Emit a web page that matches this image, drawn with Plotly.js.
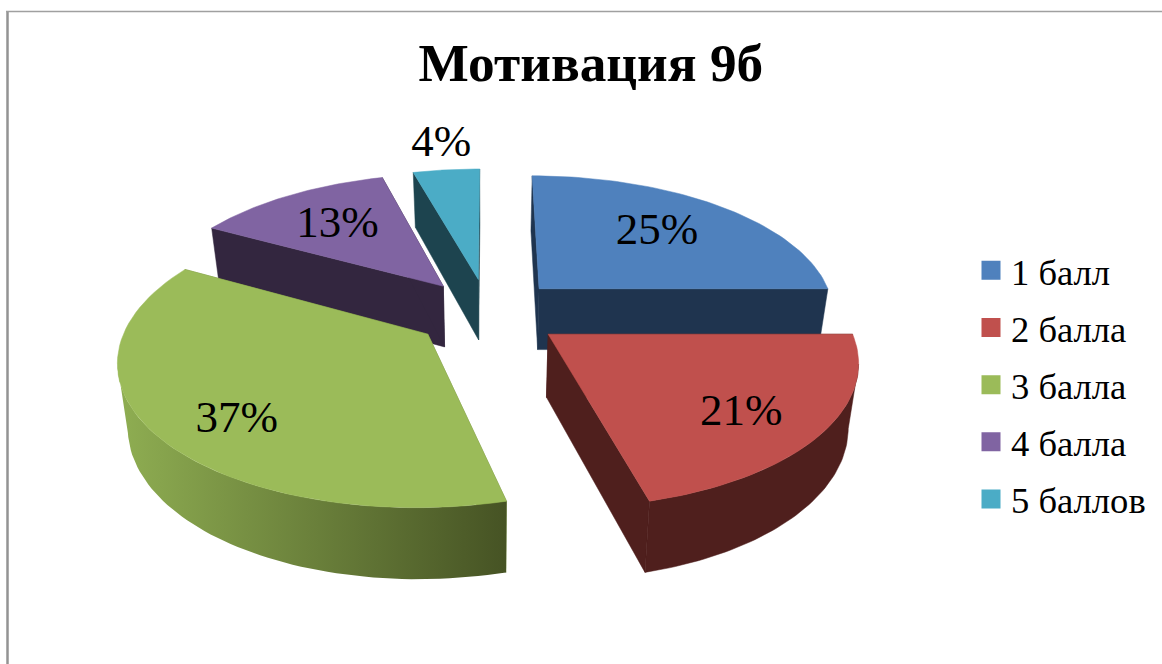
<!DOCTYPE html>
<html>
<head>
<meta charset="utf-8">
<script src="https://cdn.plot.ly/plotly-3.0.1.min.js"></script>
<style>html,body{margin:0;padding:0;background:#fff}#chart{width:1162px;height:664px}</style>
</head>
<body>
<div id="chart"></div>
<script>
const categories = ['1 балл', '2 балла', '3 балла', '4 балла', '5 баллов'];
const percents = [25, 21, 37, 12.7, 4.3];
const topColors = ['#4F81BD', '#C0504D', '#9BBB59', '#8064A2', '#4BACC6'];
const sideColors = ['#1F344F', '#4F1F1D', '#6B8239', '#33263F', '#1D444F'];
const chartTitle = 'Мотивация 9б';

// Projection of the tilted, exploded pie onto the page axes.
const view = {cx: 488, cy: 312.5, rx: 297, ry: 138, persp: 0.16, explode: 0.25, depth: 62, depthPow: 0.7, shrink: 0.972};
const labelRadius = [0.655, 0.75, 0.77, 0.66, 1.29];
const labelTurn = [-1.4, 3, -6, 0, 0.5];
const labelDrop = 2;
const paintOrder = [4, 3, 0, 2, 1];
const FONT = '"Liberation Serif", "Times New Roman", serif';
const rad = d => d * Math.PI / 180;

function project(u, v, lower) {
  const d = 1 - view.persp * v;
  let x = view.rx * u / d, y = view.cy + view.ry * v / d;
  if (lower) { x *= view.shrink; y += view.depth / Math.pow(d, view.depthPow); }
  return [view.cx + x, y];
}
function ground(mid, theta, r) {
  return [view.explode * Math.sin(rad(mid)) + r * Math.sin(rad(theta)),
          -view.explode * Math.cos(rad(mid)) - r * Math.cos(rad(theta))];
}
function toXY(pts) { return {x: pts.map(p => p[0]), y: pts.map(p => p[1])}; }
function poly(pts, color, gradient) {
  const t = Object.assign(toXY(pts), {type: 'scatter', mode: 'lines', fill: 'toself', fillcolor: color,
    line: {width: 0.5, color: color}, hoverinfo: 'skip', showlegend: false});
  if (gradient) {
    t.fillgradient = gradient;
    t.line = {width: 0};
  }
  return t;
}

const total = percents.reduce((a, b) => a + b, 0);
let acc = 0;
const slices = percents.map(p => {
  const start = acc / total * 360;
  acc += p;
  const end = acc / total * 360;
  return {start, end, mid: (start + end) / 2};
});

const traces = [];
paintOrder.forEach(i => {
  const s = slices[i];
  const arcAngles = [];
  for (let k = 0; k <= 60; k++) arcAngles.push(s.start + (s.end - s.start) * k / 60);
  const P = (th, r, low) => { const g = ground(s.mid, th, r); return project(g[0], g[1], low); };
  const apex = P(s.mid, 0, false), apexLow = P(s.mid, 0, true);
  const upper = arcAngles.map(a => P(a, 1, false));
  const lower = arcAngles.map(a => P(a, 1, true));
  traces.push(poly([apex, upper[0], lower[0], apexLow, apex], sideColors[i]));
  traces.push(poly([apex, upper[60], lower[60], apexLow, apex], sideColors[i]));
  // Outer wall: only the part of the arc that faces the viewer, between the silhouette angles.
  let thR = 0, thL = 0, maxX = -Infinity, minX = Infinity;
  for (let a = 0; a < 360; a += 0.5) {
    const x = P(a, 1, false)[0];
    if (x > maxX) { maxX = x; thR = a; }
    if (x < minX) { minX = x; thL = a; }
  }
  const from = Math.max(s.start, thR), to = Math.min(s.end, thL);
  if (to > from) {
    const seen = [];
    for (let k = 0; k <= 60; k++) seen.push(from + (to - from) * k / 60);
    const wall = seen.map(a => P(a, 1, false)).concat(seen.slice().reverse().map(a => P(a, 1, true)));
    wall.push(wall[0]);
    const gradient = i === 2 ? {type: 'horizontal', colorscale: [[0, '#8FAE52'], [1, '#465324']]} : null;
    traces.push(poly(wall, sideColors[i], gradient));
  }
  traces.push(poly([apex].concat(upper, [apex]), topColors[i]));
});

// Percent labels
const labelPts = slices.map((s, i) => {
  const g = ground(s.mid, s.mid + labelTurn[i], labelRadius[i]);
  return project(g[0], g[1], false);
});
traces.push({type: 'scatter', mode: 'text', x: labelPts.map(p => p[0]), y: labelPts.map(p => p[1] + labelDrop),
  text: percents.map(p => Math.round(p) + '%'), textposition: 'middle center',
  textfont: {family: FONT, size: 45, color: '#000'}, hoverinfo: 'skip', showlegend: false});

// Legend entries
categories.forEach((c, i) => {
  traces.push({type: 'scatter', mode: 'markers', x: [null], y: [null], name: c, legendgroup: 'g' + i,
    marker: {symbol: 'square', size: 16, color: topColors[i], line: {width: 3, color: topColors[i]}}});
});

const layout = {
  width: 1162, height: 664,
  margin: {l: 0, r: 0, t: 0, b: 0},
  paper_bgcolor: '#fff', plot_bgcolor: '#fff',
  font: {family: FONT, color: '#000'},
  title: {text: '<b>' + chartTitle + '</b>', font: {family: FONT, size: 53.3, color: '#000'},
    x: 0.5085, xanchor: 'center', xref: 'paper', y: 0.906, yanchor: 'middle', yref: 'container'},
  xaxis: {range: [0, 1162], visible: false, fixedrange: true},
  yaxis: {range: [664, 0], visible: false, fixedrange: true},
  showlegend: true,
  legend: {x: 971 / 1162, xanchor: 'left', y: 1 - 240 / 664, yanchor: 'top', font: {family: FONT, size: 36.6, color: '#000'},
    tracegroupgap: 6.6, bgcolor: 'rgba(0,0,0,0)', borderwidth: 0, traceorder: 'grouped'},
  shapes: [
    {type: 'line', xref: 'x', yref: 'y', x0: 7.5, x1: 7.5, y0: 11, y1: 664, line: {color: '#939393', width: 2.5}, layer: 'below'},
    {type: 'line', xref: 'x', yref: 'y', x0: 6, x1: 1162, y0: 11.5, y1: 11.5, line: {color: '#A0A0A0', width: 1.5}, layer: 'below'}
  ],
  hovermode: false
};
Plotly.newPlot('chart', traces, layout, {displayModeBar: false, responsive: false});
</script>
</body>
</html>
